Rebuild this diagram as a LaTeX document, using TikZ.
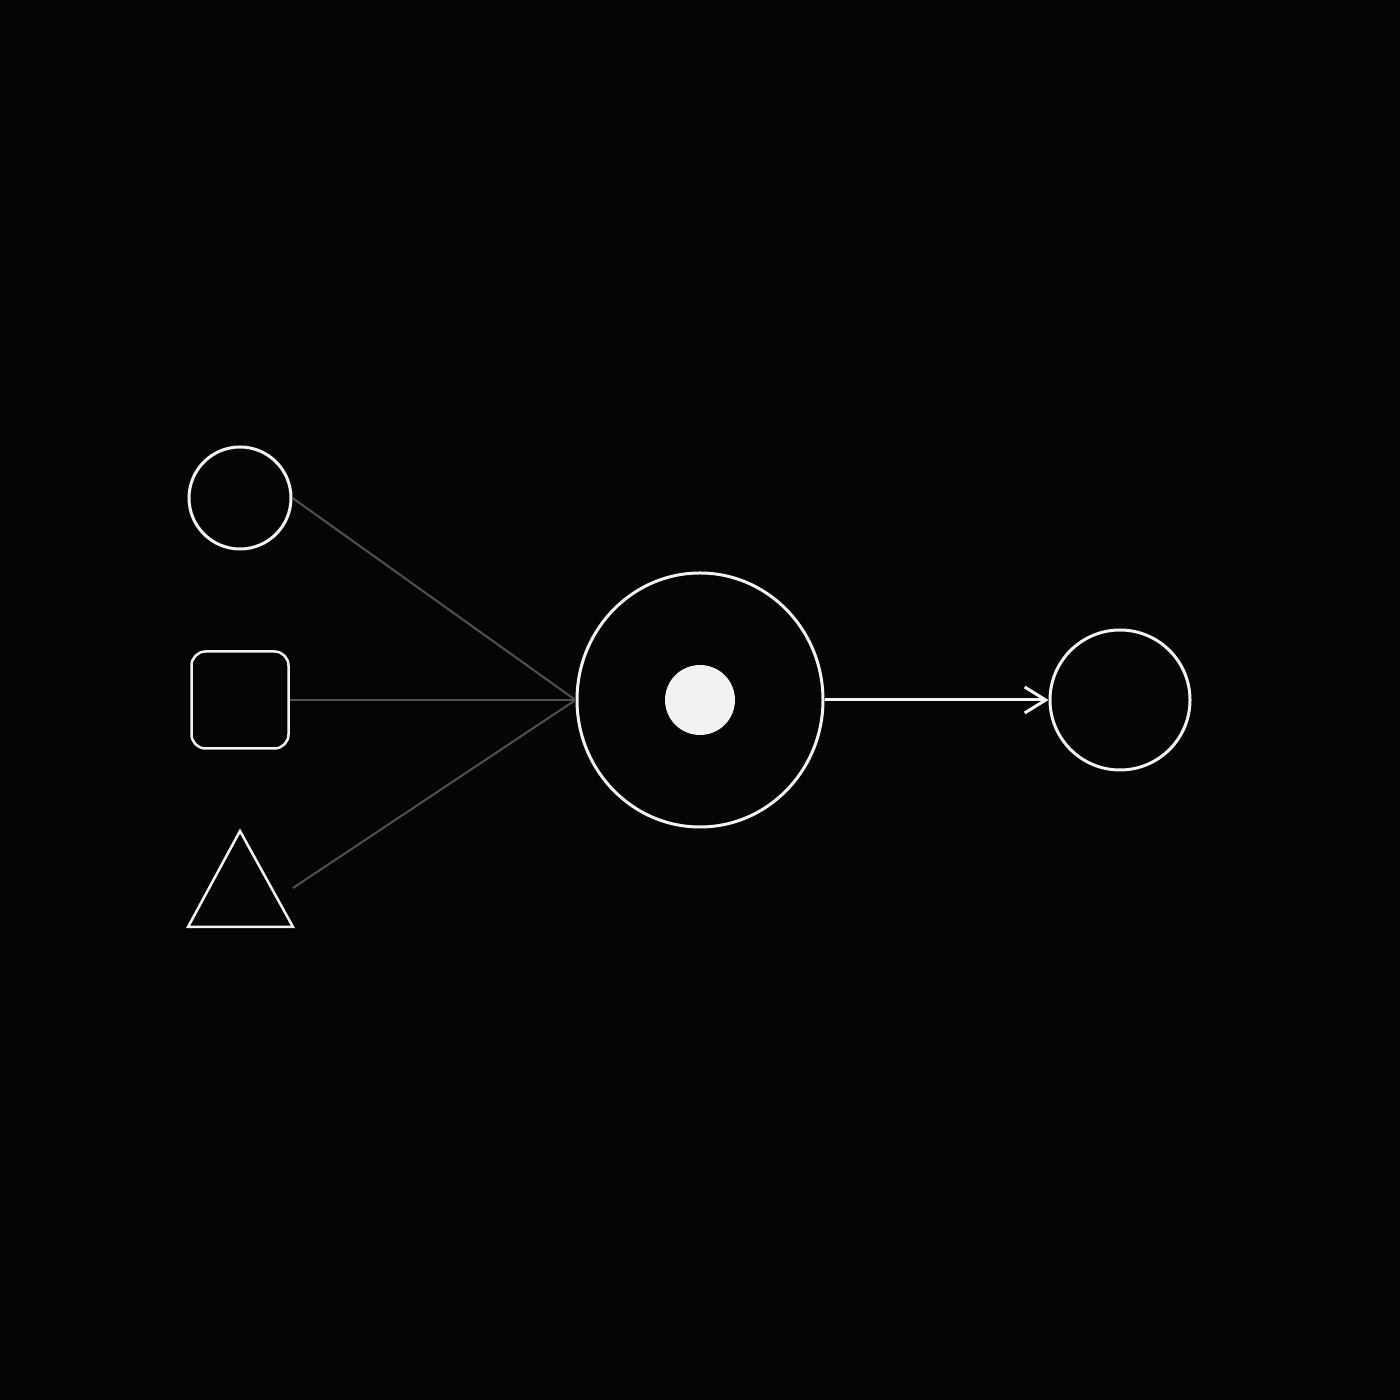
\documentclass[tikz,border=0pt]{standalone}
\definecolor{bgblack}{RGB}{5, 5, 5}
\definecolor{strokewhite}{RGB}{242, 242, 240}
\definecolor{linkgray}{RGB}{80, 80, 80}
\usepackage{tikz}
\usetikzlibrary{shapes, arrows.meta, positioning, calc}

\begin{document}
\begin{tikzpicture}
  % Background
  \fill[bgblack] (0, 0) rectangle (14, 14);
  \useasboundingbox (0, 0) rectangle (14, 14);

  % Input shapes
  \node[draw=strokewhite, line width=0.03cm, circle, minimum size=1.02cm, inner sep=0pt] (incircle) at (2.4, 9.02) {};
  \node[draw=strokewhite, line width=0.025cm, rounded corners=4pt, minimum size=0.97cm, inner sep=0pt] (insquare) at (2.4, 7) {};
  \draw[strokewhite, line width=0.025cm, line join=miter] (2.4, 5.69) -- (2.93, 4.73) -- (1.88, 4.73) -- cycle;
  \coordinate (intriangle) at (2.93, 5.12);

  % Combining unit
  \node[draw=strokewhite, line width=0.03cm, ellipse, minimum width=2.46cm, minimum height=2.54cm, inner sep=0pt] (unit) at (7, 7) {};
  \node[fill=strokewhite, circle, minimum size=0.7cm, inner sep=0pt] (core) at (7, 7) {};

  % Output
  \node[draw=strokewhite, line width=0.03cm, circle, minimum size=1.4cm, inner sep=0pt] (output) at (11.2, 7) {};

  % Links into the unit
  \draw[linkgray, line width=0.02cm] (incircle.east) -- (unit.west);
  \draw[linkgray, line width=0.02cm] (insquare.east) -- (unit.west);
  \draw[linkgray, line width=0.02cm] (intriangle) -- (unit.west);

  % Result
  \draw[-{Straight Barb[length=0.21cm, width=0.26cm, line width=0.03cm]}, strokewhite, line width=0.03cm] (unit.east) -- (output.west);
\end{tikzpicture}
\end{document}
